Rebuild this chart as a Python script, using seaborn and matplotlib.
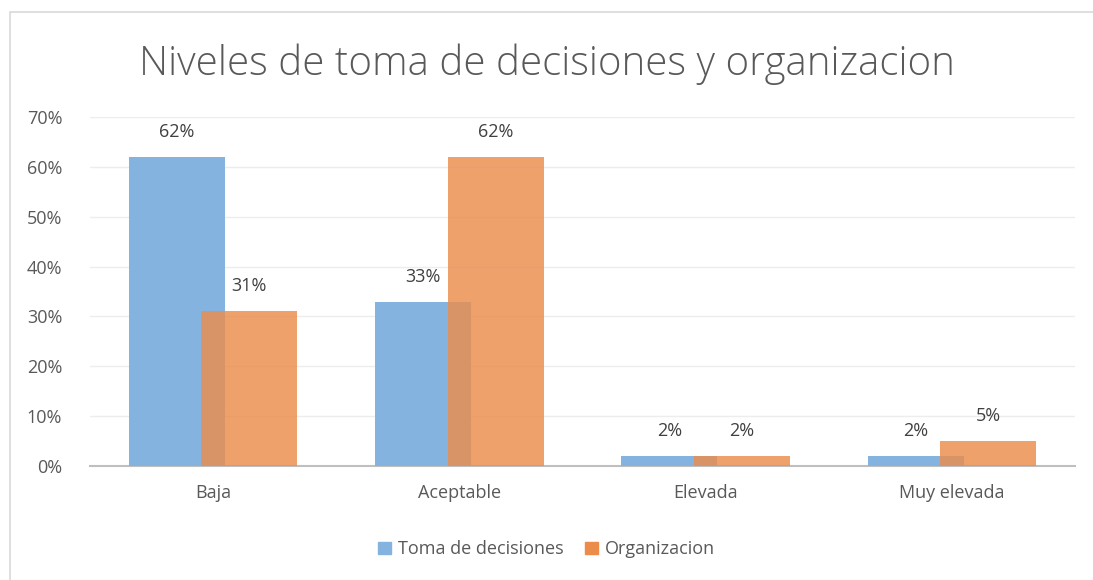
import pandas as pd
import matplotlib.pyplot as plt
import seaborn as sns
from matplotlib.patches import Rectangle
from matplotlib.ticker import PercentFormatter

# datos
niveles = ["Baja", "Aceptable", "Elevada", "Muy elevada"]
toma_decisiones = [62, 33, 2, 2]
organizacion = [31, 62, 2, 5]
series = ["Toma de decisiones", "Organizacion"]
colores = ["#85B3E0", "#EB8C4B"]

df = pd.DataFrame({
    "Nivel": niveles * 2,
    "Serie": [series[0]] * 4 + [series[1]] * 4,
    "Valor": toma_decisiones + organizacion,
})

sns.set_theme(style="white")
plt.rcParams["font.family"] = ["Open Sans", "DejaVu Sans"]

fig = plt.figure(figsize=(10.93, 5.8), dpi=100)
ax = fig.add_axes([0.0823, 0.1966, 0.9012, 0.6014])

# marco del grafico
fig.patches.append(Rectangle((0.009, -0.01), 1.0, 0.99, transform=fig.transFigure,
                             fill=False, edgecolor="#D9D9D9", linewidth=1.2))

sns.barplot(data=df, x="Nivel", y="Valor", hue="Serie", order=niveles,
            hue_order=series, palette=colores, width=0.78, dodge=True,
            saturation=1, ax=ax, legend=False, zorder=3, linewidth=0)

# barras superpuestas como en Excel
n = len(niveles)
for i, p in enumerate(ax.patches[:2 * n]):
    if i < n:
        p.set_x(p.get_x() + 0.048)
    else:
        p.set_x(p.get_x() - 0.048)
        p.set_alpha(0.82)
        p.set_zorder(4)

for i, p in enumerate(ax.patches[:2 * n]):
    val = (toma_decisiones + organizacion)[i]
    ax.annotate(f"{val}%", (p.get_x() + p.get_width() / 2, p.get_height()),
                xytext=(0, 18), textcoords="offset points", ha="center",
                va="center", fontsize=13, color="#404040")

ax.set_ylim(0, 70)
ax.set_xlim(-0.5, n - 0.5)
ax.set_yticks(range(0, 71, 10))
ax.yaxis.set_major_formatter(PercentFormatter(decimals=0))
ax.grid(axis="y", color="#EDEDED", linewidth=1, zorder=0)
ax.set_xlabel("")
ax.set_ylabel("")
for s in ["top", "right", "left"]:
    ax.spines[s].set_visible(False)
ax.spines["bottom"].set_color("#BFBFBF")
ax.spines["bottom"].set_linewidth(1.5)
ax.tick_params(axis="y", length=0, pad=20, labelsize=13, labelcolor="#595959")
ax.tick_params(axis="x", length=0, pad=13, labelsize=13, labelcolor="#595959")

fig.suptitle("Niveles de toma de decisiones y organizacion", y=0.925,
             fontsize=29, color="#595959", fontweight="light")

handles = [Rectangle((0, 0), 1, 1, color=c) for c in colores]
fig.legend(handles, series, loc="center", bbox_to_anchor=(0.5, 0.053), ncol=2,
           frameon=False, fontsize=13, handlelength=0.7, handleheight=0.7,
           handletextpad=0.4, columnspacing=1.2, labelcolor="#595959")

fig.savefig("out.png", dpi=100)
